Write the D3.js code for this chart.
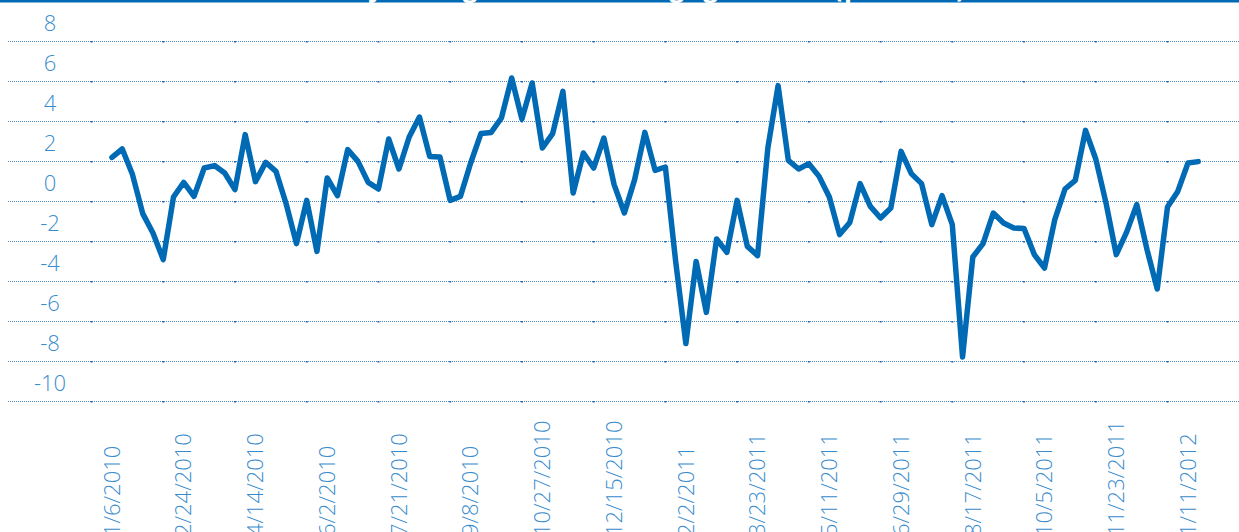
<!DOCTYPE html>
<html>
<head>
<meta charset="utf-8">
<script src="https://cdn.jsdelivr.net/npm/d3@7"></script>
<style>
  html, body { margin: 0; padding: 0; background: #ffffff; }
  svg { display: block; }
  text { font-family: "Open Sans", "Lato", sans-serif; }
</style>
</head>
<body>
<svg id="chart" width="1239" height="532"></svg>
<script>
// ---- data ----
const startDate = "2010-01-06";   // first weekly observation
const weeklyChange = [
  2.18, 2.6, 1.32, -0.63, -1.6, -2.93, 0.2, 0.93, 0.23, 1.65,
  1.77, 1.4, 0.57, 3.32, 0.97, 1.93, 1.48, -0.15, -2.13, 0.03,
  -2.52, 1.15, 0.27, 2.57, 1.98, 0.93, 0.6, 3.1, 1.6, 3.2,
  4.2, 2.23, 2.2, 0.03, 0.23, 1.9, 3.37, 3.43, 4.15, 6.15,
  4.1, 5.9, 2.65, 3.37, 5.48, 0.4, 2.4, 1.65, 3.15, 0.82,
  -0.6, 1.07, 3.43, 1.53, 1.7, -3.0, -7.13, -3.02, -5.57, -1.9,
  -2.57, 0.03, -2.27, -2.73, 2.65, 5.77, 2.03, 1.6, 1.87, 1.23,
  0.2, -1.68, -1.07, 0.87, -0.27, -0.85, -0.35, 2.48, 1.37, 0.87,
  -1.18, 0.27, -1.18, -7.8, -2.8, -2.13, -0.6, -1.1, -1.35, -1.38,
  -2.68, -3.35, -0.93, 0.6, 1.03, 3.53, 2.1, -0.1, -2.68, -1.57,
  -0.18, -2.43, -4.4, -0.3, 0.48, 1.9, 1.97
];
const xTickLabels = [
  "1/6/2010", "2/24/2010", "4/14/2010", "6/2/2010", "7/21/2010", "9/8/2010",
  "10/27/2010", "12/15/2010", "2/2/2011", "3/23/2011", "5/11/2011", "6/29/2011",
  "8/17/2011", "10/5/2011", "11/23/2011", "1/11/2012"
];
const yTicks = [8, 6, 4, 2, 0, -2, -4, -6, -8, -10];
const titleText = "Weekly change in the mortgage index (percent)";

// ---- setup ----
const parse = d3.timeParse("%Y-%m-%d");
const parseLabel = d3.timeParse("%-m/%-d/%Y");
const t0 = parse(startDate);
const dates = weeklyChange.map((_, i) => d3.timeWeek.offset(t0, i));
const series = weeklyChange.map((v, i) => ({ date: dates[i], value: v }));

const svg = d3.select("#chart");
const lineBlue = "#006ab5";
const textBlue = "#3a8ccd";
const gridBlue = "#4a8cc8";

const x = d3.scaleTime()
  .domain([parseLabel("1/6/2010"), parseLabel("1/11/2012")])
  .range([112, 1188]);
const y = d3.scaleLinear().domain([-10, 8]).range([401, 41]);

// title band (mostly cut off at top)
svg.append("rect").attr("x", 0).attr("y", -40).attr("width", 1239).attr("height", 42.5)
  .attr("fill", lineBlue);
svg.append("text").attr("x", 280).attr("y", -3)
  .attr("text-anchor", "start").attr("fill", "#ffffff")
  .attr("font-size", 26).attr("font-weight", 700)
  .attr("textLength", 685).attr("lengthAdjust", "spacing")
  .text(titleText);

// gridlines
const grid = svg.append("g");
grid.selectAll("line").data(yTicks).join("line")
  .attr("x1", 8).attr("x2", 1239)
  .attr("y1", d => Math.round(y(d)) + 0.5).attr("y2", d => Math.round(y(d)) + 0.5)
  .attr("stroke", gridBlue).attr("stroke-width", 1)
  .attr("stroke-dasharray", "1,1");

// small tick marks on gridlines (every 7 weeks)
const tickDates = d3.range(-2, 108, 7).map(i => d3.timeWeek.offset(t0, i));
yTicks.forEach(v => {
  grid.append("g").selectAll("rect").data(tickDates).join("rect")
    .attr("x", d => x(d) - 1).attr("y", Math.round(y(v)))
    .attr("width", 2).attr("height", 1.5)
    .attr("fill", "#1e64a8");
});

// y labels (sit above their gridline as in the original)
svg.append("g").selectAll("text").data(yTicks).join("text")
  .attr("x", 50).attr("y", d => y(d) - 18)
  .attr("dy", "0.35em")
  .attr("text-anchor", "middle")
  .attr("fill", textBlue).attr("font-size", 22).attr("font-weight", 300)
  .text(d => d);

// x labels rotated
svg.append("g").selectAll("text").data(xTickLabels).join("text")
  .attr("transform", d => `translate(${x(parseLabel(d))},536) rotate(-90)`)
  .attr("dy", "0.35em")
  .attr("text-anchor", "start")
  .attr("fill", textBlue).attr("font-size", 22).attr("font-weight", 300)
  .text(d => d);

// line
const line = d3.line().x(d => x(d.date)).y(d => y(d.value));
svg.append("path").datum(series)
  .attr("d", line)
  .attr("fill", "none")
  .attr("stroke", lineBlue)
  .attr("stroke-width", 5.5)
  .attr("stroke-linejoin", "round")
  .attr("stroke-linecap", "round");
</script>
</body>
</html>
